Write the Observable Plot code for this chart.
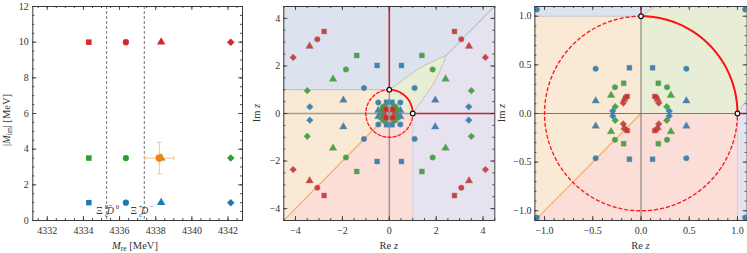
<!DOCTYPE html>
<html><head><meta charset="utf-8">
<script src="https://cdn.jsdelivr.net/npm/d3@7"></script>
<script src="https://cdn.jsdelivr.net/npm/@observablehq/plot@0.6"></script>
<style>
body{margin:0;background:#fff;}
#wrap{position:relative;width:747px;height:253px;overflow:hidden;background:#fff;}
.panel{position:absolute;top:0;height:253px;overflow:hidden;}
#wrap svg, #wrap svg text{font-family:"Liberation Serif","Times New Roman","DejaVu Serif",serif !important;}
</style></head><body><div id="wrap"></div>
<script>
// ---------- DATA ----------
// Panel 1: pole masses
const shapeNames = ["square", "circle", "triangle", "diamond2"];
const mreValues = [4334.3, 4336.35, 4338.3, 4342.15];     // M_re per shape [MeV]
const groupNames = ["red", "green", "blue"];
const mimValues = [10, 3.5, 1];                             // |M_im| per group [MeV]
const thresholdValues = [4335.28, 4337.37];                 // Ξc0 D̄0, Ξc+ D−
const expPoint = {mre: 4338.2, mreErr: 0.8, mim: 3.5, mimErr: 0.885};
const p1xTicks = [4332, 4334, 4336, 4338, 4340, 4342];
const p1yTicks = [0, 2, 4, 6, 8, 10, 12];

// Panels 2/3: poles in the z plane  [shape, Re z, Im z]
const redPoles = [
  ["diamond2", 4.1, 2.36], ["diamond2", -4.1, 2.36], ["diamond2", 4.1, -2.36], ["diamond2", -4.1, -2.36],
  ["triangle", 3.4, 2.83], ["triangle", -3.4, 2.83], ["triangle", 3.4, -2.83], ["triangle", -3.4, -2.83],
  ["circle", 3.07, 3.12], ["circle", -3.07, 3.12], ["circle", 3.07, -3.12], ["circle", -3.07, -3.12],
  ["square", 2.78, 3.45], ["square", -2.78, 3.45], ["square", 2.78, -3.45], ["square", -2.78, -3.45],
  ["diamond2", 0.184, 0.107], ["diamond2", -0.184, 0.107], ["diamond2", 0.184, -0.107], ["diamond2", -0.184, -0.107],
  ["triangle", 0.173, 0.145], ["triangle", -0.173, 0.145], ["triangle", 0.173, -0.145], ["triangle", -0.173, -0.145],
  ["circle", 0.16, 0.164], ["circle", -0.16, 0.164], ["circle", 0.16, -0.164], ["circle", -0.16, -0.164],
  ["square", 0.142, 0.176], ["square", -0.142, 0.176], ["square", 0.142, -0.176], ["square", -0.142, -0.176]
];
const greenPoles = [
  ["square", 1.39, 2.44], ["square", -1.39, 2.44], ["square", 1.39, -2.44], ["square", -1.39, -2.44],
  ["circle", 1.85, 1.85], ["circle", -1.85, 1.85], ["circle", 1.85, -1.85], ["circle", -1.85, -1.85],
  ["triangle", 2.4, 1.45], ["triangle", -2.4, 1.45], ["triangle", 2.4, -1.45], ["triangle", -2.4, -1.45],
  ["diamond2", 3.5, 0.96], ["diamond2", -3.5, 0.96], ["diamond2", 3.5, -0.96], ["diamond2", -3.5, -0.96],
  ["square", 0.18, 0.31], ["square", -0.18, 0.31], ["square", 0.18, -0.31], ["square", -0.18, -0.31],
  ["circle", 0.27, 0.27], ["circle", -0.27, 0.27], ["circle", 0.27, -0.27], ["circle", -0.27, -0.27],
  ["triangle", 0.31, 0.187], ["triangle", -0.31, 0.187], ["triangle", 0.31, -0.187], ["triangle", -0.31, -0.187],
  ["diamond2", 0.267, 0.07], ["diamond2", -0.267, 0.07], ["diamond2", 0.267, -0.07], ["diamond2", -0.267, -0.07]
];
const bluePoles = [
  ["square", 0.52, 2.02], ["square", -0.52, 2.02], ["square", 0.52, -2.02], ["square", -0.52, -2.02],
  ["circle", 1.08, 1.07], ["circle", -1.08, 1.07], ["circle", 1.08, -1.07], ["circle", -1.08, -1.07],
  ["triangle", 1.96, 0.56], ["triangle", -1.96, 0.56], ["triangle", 1.96, -0.56], ["triangle", -1.96, -0.56],
  ["diamond2", 3.39, 0.28], ["diamond2", -3.39, 0.28], ["diamond2", 3.39, -0.28], ["diamond2", -3.39, -0.28],
  ["square", 0.12, 0.47], ["square", -0.12, 0.47], ["square", 0.12, -0.47], ["square", -0.12, -0.47],
  ["circle", 0.47, 0.46], ["circle", -0.47, 0.46], ["circle", 0.47, -0.46], ["circle", -0.47, -0.46],
  ["triangle", 0.47, 0.13], ["triangle", -0.47, 0.13], ["triangle", 0.47, -0.13], ["triangle", -0.47, -0.13],
  ["diamond2", 0.293, 0.025], ["diamond2", -0.293, 0.025], ["diamond2", 0.293, -0.025], ["diamond2", -0.293, -0.025]
];
// Riemann-sheet region boundaries (z plane)
const leafUpper = [[0,1],[0.3,1.2],[0.6,1.43],[0.9,1.65],[1.2,1.85],[1.5,2.02],[1.8,2.17],[2.1,2.3],[2.41,2.43]];
const leafLower = [[1,0],[1.2,0.3],[1.43,0.6],[1.65,0.9],[1.85,1.2],[2.02,1.5],[2.17,1.8],[2.3,2.1],[2.41,2.43]];
const sheetDiagonal = [[2.41,2.43],[5,5.02]];
const p2Ticks = [-4, -2, 0, 2, 4];
const p3Ticks = [-1, -0.5, 0, 0.5, 1];

// ---------- STYLE ----------
const TXT = "#333";
const FRAME = "#3a3a3a";
const groupColor = {red: "#d62728", green: "#2ca02c", blue: "#1f77b4"};
const symR = {square: 3.1, circle: 3.1, triangle: 3.1, diamond2: 3.4};
const W = 249, H = 253;

function frameTicks(xd, yd, fw, fh, xMaj, xMin, yMaj, yMin) {
  const ky = (yd[1] - yd[0]) / fh, kx = (xd[1] - xd[0]) / fw;
  const out = [];
  for (const [vals, L] of [[xMin, 2], [xMaj, 4]]) {
    out.push(Plot.ruleX(vals, {x: d => d, y1: yd[0], y2: yd[0] + L * ky, stroke: FRAME, strokeWidth: 0.9}));
    out.push(Plot.ruleX(vals, {x: d => d, y1: yd[1], y2: yd[1] - L * ky, stroke: FRAME, strokeWidth: 0.9}));
  }
  for (const [vals, L] of [[yMin, 2], [yMaj, 4]]) {
    out.push(Plot.ruleY(vals, {y: d => d, x1: xd[0], x2: xd[0] + L * kx, stroke: FRAME, strokeWidth: 0.9}));
    out.push(Plot.ruleY(vals, {y: d => d, x1: xd[1], x2: xd[1] - L * kx, stroke: FRAME, strokeWidth: 0.9}));
  }
  return out;
}

function richText(svg, x, y, parts, {size = 10.5, rotate = 0, anchor = "middle"} = {}) {
  const t = d3.select(svg).append("text")
    .attr("transform", `translate(${x},${y})` + (rotate ? ` rotate(${rotate})` : ""))
    .attr("text-anchor", anchor).attr("font-size", size).attr("fill", TXT);
  let shift = 0;
  for (const p of parts) {
    const s = t.append("tspan").text(p.t);
    const target = p.sub ? size * 0.28 : p.sup ? -size * 0.38 : 0;
    if (target !== shift) { s.attr("dy", target - shift); shift = target; }
    if (p.sub || p.sup) s.attr("font-size", size * 0.72);
    if (p.i) s.attr("font-style", "italic");
  }
  return t;
}
function plainText(svg, x, y, str, size, italic) {
  d3.select(svg).append("text").attr("x", x).attr("y", y)
    .attr("font-size", size).attr("fill", TXT).attr("font-style", italic ? "italic" : null).text(str);
}

const wrap = document.getElementById("wrap");
function place(el, left, width) {
  const d = document.createElement("div");
  d.className = "panel"; d.style.left = left + "px"; d.style.width = width + "px";
  d.appendChild(el); wrap.appendChild(d);
}

// ---------- PANEL 1 ----------
{
  const xd = [4331.2, 4342.8], yd = [0, 12];
  const mL = 32.3, mR = 7, mT = 6, mB = 33;
  const pts = [];
  groupNames.forEach((g, gi) => shapeNames.forEach((s, si) =>
    pts.push({g, s, x: mreValues[si], y: mimValues[gi]})));
  const capV = {draw(ctx, size) { const h = Math.sqrt(size / Math.PI); ctx.moveTo(0, -h); ctx.lineTo(0, h); }};
  const capH = {draw(ctx, size) { const h = Math.sqrt(size / Math.PI); ctx.moveTo(-h, 0); ctx.lineTo(h, 0); }};
  const e = expPoint;
  const errCol = "#f5c485";
  const plot = Plot.plot({
    width: W, height: H, marginLeft: mL, marginRight: mR, marginTop: mT, marginBottom: mB,
    x: {domain: xd, label: null}, y: {domain: yd, label: null},
    r: {type: "identity"},
    style: {fontSize: "10px", color: TXT, background: "white"},
    marks: [
      Plot.ruleX(thresholdValues, {x: d => d, stroke: "#8c8c8c", strokeWidth: 1.2, strokeDasharray: "3,2"}),
      Plot.dot(pts, {x: "x", y: "y", symbol: "s", fill: d => groupColor[d.g], r: d => symR[d.s], stroke: "none"}),
      Plot.link([e], {x1: d => d.mre - d.mreErr, x2: d => d.mre + d.mreErr, y1: "mim", y2: "mim", stroke: errCol, strokeWidth: 1}),
      Plot.link([e], {x1: "mre", x2: "mre", y1: d => d.mim - d.mimErr, y2: d => d.mim + d.mimErr, stroke: errCol, strokeWidth: 1}),
      Plot.dot([e.mre - e.mreErr, e.mre + e.mreErr], {x: d => d, y: () => e.mim, symbol: capV, r: 2.2, fill: "none", stroke: errCol, strokeWidth: 1}),
      Plot.dot([e.mim - e.mimErr, e.mim + e.mimErr], {x: () => e.mre, y: d => d, symbol: capH, r: 2.2, fill: "none", stroke: errCol, strokeWidth: 1}),
      Plot.dot([e], {x: "mre", y: "mim", r: 3.8, fill: "#ff7f0e", stroke: "none"}),
      ...frameTicks(xd, yd, W - mL - mR, H - mT - mB, p1xTicks, d3.range(4331.5, 4342.8, 0.5), p1yTicks, d3.range(0, 12.01, 0.5)),
      Plot.frame({stroke: FRAME, strokeWidth: 1}),
      Plot.axisX({ticks: p1xTicks, tickSize: 0, tickPadding: 6, tickFormat: d => String(d), label: null}),
      Plot.axisY({ticks: p1yTicks, tickSize: 0, tickPadding: 4, tickFormat: d => String(d), label: null})
    ]
  });
  const svg = plot.tagName === "svg" ? plot : plot.querySelector("svg");
  const xs = plot.scale("x");
  // threshold labels
  const labs = [
    {v: thresholdValues[0], off: -6.5, sup: "0", sub: "c", D: "D\u0304", sup2: "0"},
    {v: thresholdValues[1], off: -10, sup: "+", sub: "c", D: "D", sup2: "\u2212"}
  ];
  for (const l of labs) {
    const x0 = xs.apply(l.v) + l.off, yb = 213.5;
    plainText(svg, x0, yb, "\u039E", 10, false);
    plainText(svg, x0 + 6.8, yb - 5, l.sup, 6.6, false);
    plainText(svg, x0 + 6.8, yb + 3.2, l.sub, 6.6, false);
    plainText(svg, x0 + 10.8, yb, l.D, 10, true);
    plainText(svg, x0 + 17.8, yb - 4.5, l.sup2, 6.6, false);
  }
  richText(svg, 135, 248.5, [{t: "M", i: 1}, {t: "re", sub: 1}, {t: " [MeV]"}]);
  richText(svg, 9.5, 120, [{t: "|"}, {t: "M", i: 1}, {t: "im", sub: 1}, {t: "| [MeV]"}], {rotate: -90});
  place(plot, 0, W);
}

// ---------- Z-PLANE PANELS ----------
function allPoles() {
  const out = [];
  for (const [g, arr] of [["blue", bluePoles], ["green", greenPoles], ["red", redPoles]])
    for (const [s, re, im] of arr) out.push({g, s, re, im});
  return out;
}
function circlePts(a0, a1, n) {
  return d3.range(n + 1).map(i => { const t = a0 + (a1 - a0) * i / n; return [Math.cos(t), Math.sin(t)]; });
}
function zPanel({lim, ticks, minor, fmt, mL, mR, width, axisCol, axisW, arcW, dash, labelX}) {
  const xd = [-lim, lim], yd = [-lim, lim];
  const mT = 6, mB = 33;
  const E = 6;
  const upperRest = leafUpper.slice(1);
  const lowerRest = leafLower.slice(1);
  const regions = [
    {c: "#dce3ee", p: [[-E, 1], [0, 1], ...upperRest, [E, E + 0.02], [E, E + 1], [-E, E + 1]]},
    {c: "#faead5", p: [[-E, -E], [0, 0], [0, 1], [-E, 1]]},
    {c: "#fbded7", p: [[-E - 1, -E], [-E, -E], [0, 0], [1, 0], [1, -E - 1], [-E - 1, -E - 1]]},
    {c: "#e6e2ef", p: [[1, -E - 1], [1, 0], ...lowerRest, [E, E + 0.02], [E + 1, E], [E + 1, -E - 1]]},
    {c: "#e8eed6", p: [[0, 0], [0, 1], ...upperRest, ...lowerRest.slice(0, -1).reverse(), [1, 0]]}
  ];
  const XY = {x: d => d[0], y: d => d[1], clip: true};
  const plot = Plot.plot({
    width, height: H, marginLeft: mL, marginRight: mR, marginTop: mT, marginBottom: mB,
    x: {domain: xd, label: null}, y: {domain: yd, label: null},
    r: {type: "identity"},
    style: {fontSize: "10px", color: TXT, background: "white"},
    marks: [
      ...regions.map(r => Plot.line(r.p, {...XY, curve: "linear-closed", fill: r.c, stroke: "none"})),
      Plot.line([[-E, 1], [0, 1]], {...XY, stroke: "#c6c6c6", strokeWidth: 1.2}),
      Plot.line([[1, -E], [1, 0]], {...XY, stroke: "#d6ccd6", strokeWidth: 1}),
      Plot.line(leafUpper, {...XY, stroke: "#bcc6b0", strokeWidth: 1}),
      Plot.line(leafLower, {...XY, stroke: "#bcc6b0", strokeWidth: 1}),
      Plot.line(sheetDiagonal, {...XY, stroke: "#a9b0b8", strokeWidth: 1}),
      Plot.line([[-E, -E], [0, 0]], {...XY, stroke: "#f3aa6e", strokeWidth: 1.1}),
      Plot.line([[0, -E], [0, 1]], {...XY, stroke: axisCol, strokeWidth: axisW}),
      Plot.line([[-E, 0], [1, 0]], {...XY, stroke: axisCol, strokeWidth: axisW}),
      Plot.line([[0, 1], [0, E]], {...XY, stroke: "#c0262c", strokeWidth: 1.6}),
      Plot.line([[1, 0], [E, 0]], {...XY, stroke: "#c0262c", strokeWidth: 1.6}),
      Plot.line(circlePts(Math.PI / 2, 2 * Math.PI, 180), {...XY, stroke: "#ff1a1a", strokeWidth: 1.4, strokeDasharray: dash}),
      Plot.line(circlePts(0, Math.PI / 2, 60), {...XY, stroke: "#ff1010", strokeWidth: arcW}),
      Plot.dot(allPoles(), {x: "re", y: "im", symbol: "s", r: d => symR[d.s] * 0.9, fill: d => groupColor[d.g],
        fillOpacity: 0.88, stroke: "#8a8a8a", strokeOpacity: 0.7, strokeWidth: 0.6, clip: true}),
      Plot.dot([[0, 1], [1, 0]], {...XY, r: 2.3, fill: "white", stroke: "#111", strokeWidth: 1.2}),
      ...frameTicks(xd, yd, width - mL - mR, H - mT - mB, ticks, minor, ticks, minor),
      Plot.frame({stroke: FRAME, strokeWidth: 1}),
      Plot.axisX({ticks, tickSize: 0, tickPadding: 6, tickFormat: fmt, label: null}),
      Plot.axisY({ticks, tickSize: 0, tickPadding: 3.5, tickFormat: fmt, label: null})
    ]
  });
  const svg = plot.tagName === "svg" ? plot : plot.querySelector("svg");
  const cx = mL + (width - mL - mR) / 2;
  richText(svg, cx, 248.5, [{t: "Re "}, {t: "z", i: 1}]);
  richText(svg, labelX, 113, [{t: "Im "}, {t: "z", i: 1}], {rotate: -90});
  return plot;
}

const fmt2 = d => (d < 0 ? "\u2212" : "") + Math.abs(d);
const fmt3 = d => (d < 0 ? "\u2212" : "") + Math.abs(d).toFixed(1);

place(zPanel({lim: 4.5, ticks: p2Ticks, minor: d3.range(-9, 10).map(i => i / 2), fmt: fmt2,
  mL: 34.3, mR: 3.7, width: W, axisCol: "rgba(130,130,130,0.75)", axisW: 1.5, arcW: 1.8, dash: "3,2.2", labelX: 10.5}), 249, W);
place(zPanel({lim: 1.1, ticks: p3Ticks, minor: d3.range(-11, 12).map(i => i / 10), fmt: fmt3,
  mL: 37.4, mR: 0.4, width: 250, axisCol: "#6a6a6a", axisW: 0.9, arcW: 2, dash: "3,3", labelX: 7.5}), 497, 250);
</script></body></html>
